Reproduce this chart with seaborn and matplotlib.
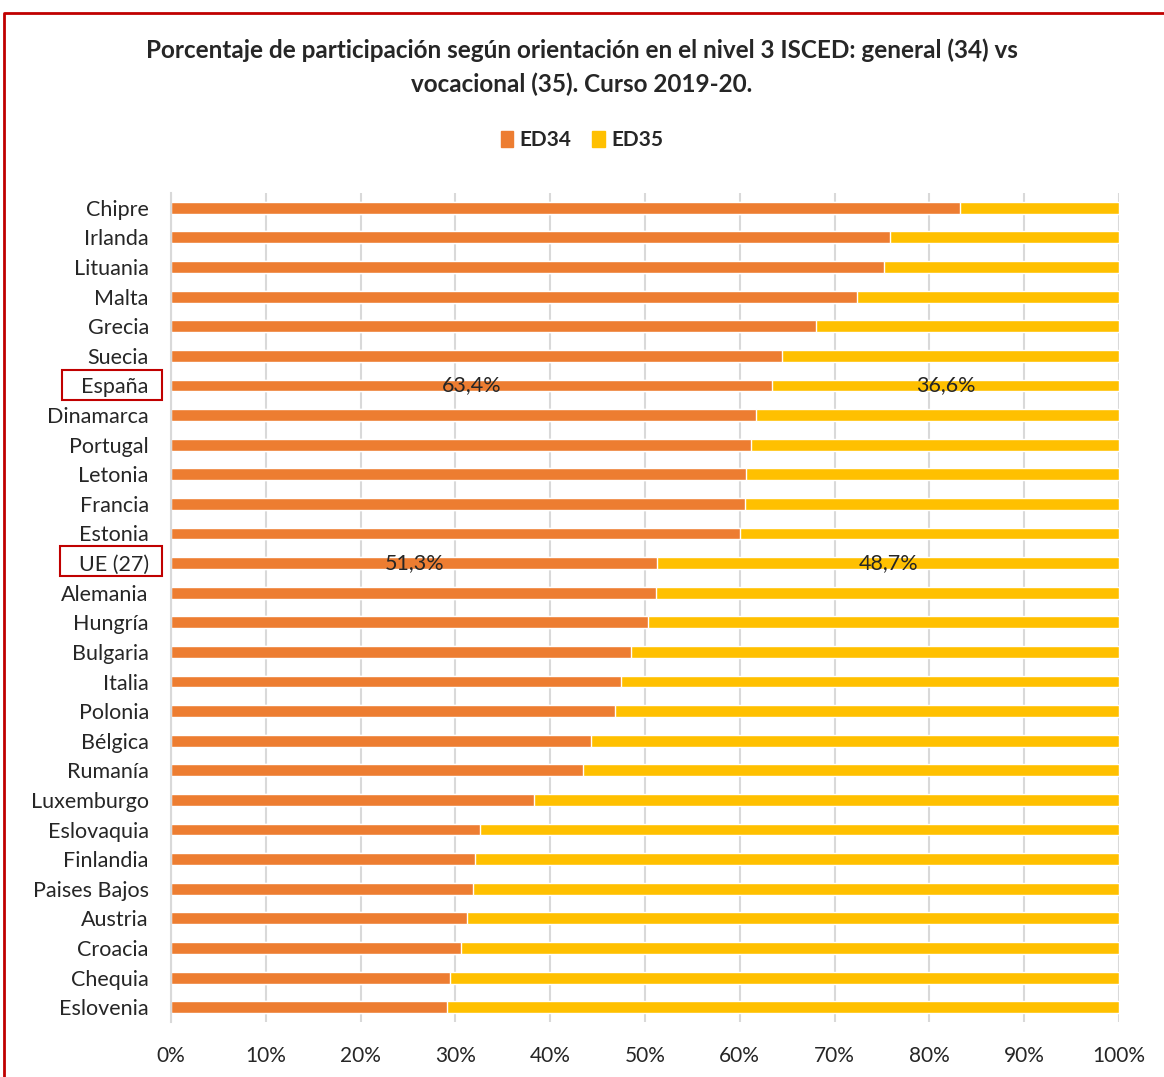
import matplotlib
matplotlib.use("Agg")
import matplotlib.pyplot as plt
import matplotlib.patches as mpatches
import pandas as pd
import seaborn as sns

# Datos (ED34 = general, ED35 = vocacional)
paises = ["Chipre", "Irlanda", "Lituania", "Malta", "Grecia", "Suecia", "España",
          "Dinamarca", "Portugal", "Letonia", "Francia", "Estonia", "UE (27)",
          "Alemania", "Hungría", "Bulgaria", "Italia", "Polonia", "Bélgica",
          "Rumanía", "Luxemburgo", "Eslovaquia", "Finlandia", "Paises Bajos",
          "Austria", "Croacia", "Chequia", "Eslovenia"]
ed34 = [83.2, 75.8, 75.2, 72.4, 68.0, 64.4, 63.4, 61.7, 61.2, 60.7, 60.6, 60.0,
        51.3, 51.2, 50.3, 48.5, 47.5, 46.8, 44.3, 43.5, 38.3, 32.6, 32.1, 31.9,
        31.2, 30.6, 29.4, 29.1]
ed35 = [round(100 - v, 1) for v in ed34]
destacados = ["España", "UE (27)"]

df = pd.DataFrame({"pais": paises, "ED34": ed34, "ED35": ed35})
df["total"] = df["ED34"] + df["ED35"]

naranja = "#ED7D31"
amarillo = "#FFC000"

sns.set_style("white")
plt.rcParams["font.family"] = ["Lato", "DejaVu Sans"]

W, H = 1164, 1077
fig = plt.figure(figsize=(W / 100, H / 100), dpi=100)
ax = fig.add_axes([171 / W, 1 - 1022 / H, (1119 - 171) / W, (1022 - 193) / H])

sns.barplot(data=df, x="total", y="pais", color=amarillo, width=0.4,
            orient="h", ax=ax, saturation=1)
sns.barplot(data=df, x="ED34", y="pais", color=naranja, width=0.4,
            orient="h", ax=ax, saturation=1)

# etiquetas de datos solo en España y UE (27)
lab34 = [f"{v:.1f}%".replace(".", ",") if p in destacados else "" for p, v in zip(paises, ed34)]
lab35 = [f"{v:.1f}%".replace(".", ",") if p in destacados else "" for p, v in zip(paises, ed35)]
bars_total = ax.containers[0]
bars_34 = ax.containers[1]
ax.bar_label(bars_34, labels=lab34, label_type="center", fontsize=15.5)
# la parte ED35 va de ED34 a 100: se centra a mano
for rect, txt, a in zip(bars_total, lab35, ed34):
    if txt:
        ax.text((a + 100) / 2, rect.get_y() + rect.get_height() / 2, txt,
                ha="center", va="center", fontsize=15.5)

ax.set_xlim(0, 100)
ax.set_ylim(len(paises) - 0.5, -0.5)
ax.set_xticks(range(0, 101, 10))
ax.set_xticklabels([f"{t}%" for t in range(0, 101, 10)], fontsize=15)
ax.tick_params(axis="y", labelsize=15.5, length=0, pad=16)
ax.tick_params(axis="x", length=0, pad=17)
ax.set_xlabel("")
ax.set_ylabel("")
ax.grid(axis="x", color="#d9d9d9", linewidth=1.5)
ax.set_axisbelow(True)
for s in ["top", "right", "bottom"]:
    ax.spines[s].set_visible(False)
ax.spines["left"].set_color("#d9d9d9")
ax.spines["left"].set_linewidth(1.5)

# título
fig.text(0.5, 1 - 67 / H, "Porcentaje de participación según orientación en el nivel 3 ISCED: general (34) vs\nvocacional (35). Curso 2019-20.",
         ha="center", va="center", fontsize=17.5, fontweight="bold", linespacing=1.55)

# leyenda
handles = [mpatches.Patch(color=naranja, label="ED34"),
           mpatches.Patch(color=amarillo, label="ED35")]
fig.legend(handles=handles, loc="center", bbox_to_anchor=(0.5, 1 - 140 / H), ncol=2,
           frameon=False, prop={"weight": "bold", "size": 15},
           handlelength=0.6, handleheight=0.8, handletextpad=0.3, columnspacing=1.0)

# recuadros rojos alrededor de España y UE (27)
for x0, y0, x1, y1 in [(62, 370, 162, 400), (60, 546, 162, 576)]:
    fig.patches.append(mpatches.Rectangle((x0 / W, 1 - y1 / H), (x1 - x0) / W, (y1 - y0) / H,
                                          transform=fig.transFigure, fill=False,
                                          edgecolor="#C00000", linewidth=1.5))

# marco rojo del gráfico (borde superior e izquierdo)
fig.add_artist(plt.Line2D([4 / W, 4 / W, 1], [0, 1 - 13 / H, 1 - 13 / H],
                          transform=fig.transFigure, color="#C00000", linewidth=2))

fig.savefig("out.png", dpi=100)
